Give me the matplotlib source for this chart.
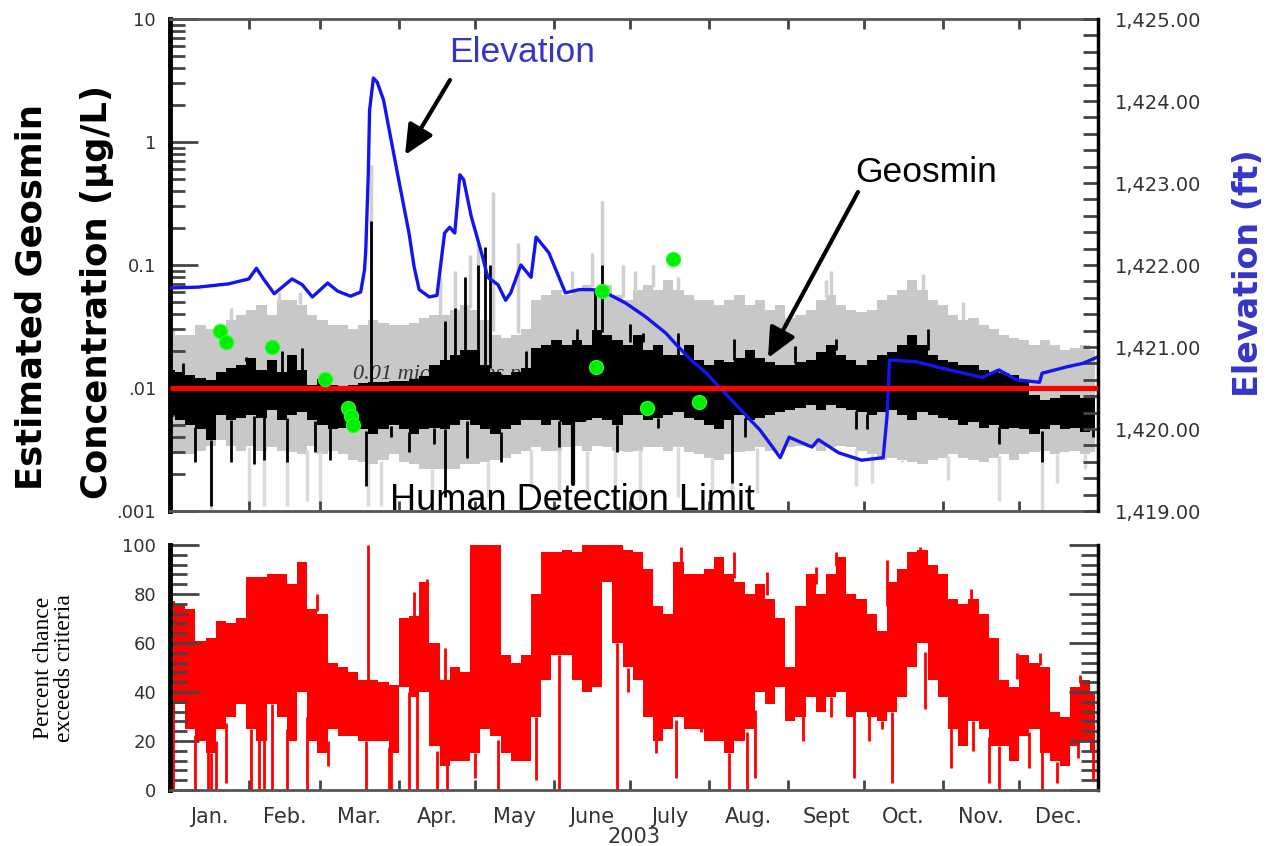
import numpy as np
import matplotlib
matplotlib.use('Agg')
import matplotlib.pyplot as plt
from matplotlib.ticker import FixedLocator, FixedFormatter, NullFormatter, MultipleLocator, LogLocator

W, H = 1268, 846

# ---------------- data (day of year, 2003) ----------------
bin_day = np.arange(0, 365, 4)          # 4-day bins, 92 values

# geosmin estimate, black band (ug/L)
geo_hi = [0.014, 0.0135, 0.0128, 0.0121, 0.0116, 0.0135, 0.0146, 0.0154,
          0.0175, 0.014, 0.0169, 0.0135, 0.0185, 0.014, 0.0106,
          0.0118, 0.0106, 0.0104, 0.0106, 0.011, 0.0112, 0.0112, 0.0115,
          0.0115, 0.0118, 0.0125, 0.0154, 0.0169, 0.0185, 0.0204,
          0.0204, 0.0154, 0.0135, 0.0128, 0.0135, 0.0146, 0.0211, 0.0224,
          0.0245, 0.0224, 0.0245, 0.0224, 0.0296, 0.027, 0.0245, 0.0224,
          0.027, 0.0204, 0.0224, 0.0185, 0.0185, 0.0224, 0.0169,
          0.0154, 0.0169, 0.0163, 0.0175, 0.0204, 0.0175, 0.0163, 0.0154,
          0.0154, 0.0163, 0.0169, 0.0196, 0.0224, 0.0185, 0.0169, 0.0154,
          0.0169, 0.0185, 0.0196, 0.0224, 0.027, 0.0224, 0.0185, 0.0169,
          0.0163, 0.0154, 0.0154, 0.014, 0.0135, 0.0132, 0.0128,
          0.0111, 0.0088, 0.008, 0.0083, 0.0088, 0.0088, 0.0083, 0.0088]
geo_lo = [0.006, 0.0055, 0.005, 0.0046, 0.0038, 0.006, 0.0055, 0.0057,
          0.006, 0.0057, 0.0066, 0.0055, 0.006, 0.0064, 0.0055,
          0.005, 0.0046, 0.0047, 0.005, 0.0046, 0.0042, 0.0046, 0.005,
          0.0046, 0.0042, 0.0046, 0.0047, 0.0046, 0.005, 0.0055,
          0.005, 0.0046, 0.0042, 0.0046, 0.005, 0.0055, 0.0055, 0.005,
          0.0055, 0.005, 0.0055, 0.0055, 0.0057, 0.0055, 0.005, 0.006,
          0.006, 0.0055, 0.0057, 0.006, 0.0064, 0.0057, 0.0055,
          0.005, 0.0046, 0.0055, 0.006, 0.0055, 0.0057, 0.006, 0.0064,
          0.0066, 0.0069, 0.0073, 0.0066, 0.0073, 0.0069, 0.0066, 0.0064,
          0.006, 0.0064, 0.0066, 0.006, 0.0055, 0.0064, 0.006, 0.0057,
          0.0055, 0.005, 0.0053, 0.0047, 0.005, 0.0046, 0.0047,
          0.0046, 0.0042, 0.0046, 0.005, 0.0046, 0.0047, 0.0044, 0.0047]
geo_up_day = [5, 30, 44, 52, 79, 108, 112, 116, 121, 124, 126, 140, 160, 167, 170, 181, 186,
              200, 222, 246, 262, 298]
geo_up_val = [0.016, 0.018, 0.02, 0.021, 0.23, 0.035, 0.045, 0.08, 0.1, 0.14, 0.1, 0.02, 0.03,
              0.065, 0.1, 0.033, 0.028, 0.028, 0.025, 0.022, 0.025, 0.03]
geo_dn_day = [10, 16, 24, 33, 37, 46, 57, 63, 77, 87, 94, 104, 108, 117, 130, 153, 176,
              192, 221, 226, 270, 274, 326, 343, 363]
geo_dn_val = [0.0025, 0.0011, 0.0025, 0.0024, 0.0026, 0.0025, 0.003, 0.0026, 0.0016, 0.004,
              0.003, 0.0035, 0.0013, 0.0027, 0.0025, 0.0033, 0.003, 0.0047, 0.0017, 0.004,
              0.0046, 0.0046, 0.0035, 0.0025, 0.004]

# uncertainty range, grey band (ug/L)
unc_hi = [0.030, 0.027, 0.027, 0.0325, 0.030, 0.0325, 0.0357, 0.039,
          0.043, 0.047, 0.039, 0.052, 0.052, 0.047, 0.039,
          0.036, 0.0325, 0.0325, 0.030, 0.0325, 0.036, 0.034, 0.0325,
          0.0325, 0.034, 0.037, 0.039, 0.039, 0.043, 0.047,
          0.043, 0.036, 0.027, 0.0255, 0.027, 0.030, 0.052, 0.057,
          0.063, 0.057, 0.063, 0.069, 0.063, 0.069, 0.057, 0.052,
          0.063, 0.069, 0.063, 0.076, 0.063, 0.057, 0.052,
          0.052, 0.047, 0.052, 0.057, 0.047, 0.052, 0.043, 0.047,
          0.037, 0.039, 0.043, 0.052, 0.057, 0.047, 0.043, 0.0415,
          0.043, 0.052, 0.057, 0.063, 0.076, 0.063, 0.052, 0.047,
          0.039, 0.036, 0.037, 0.0325, 0.030, 0.027, 0.0255,
          0.0245, 0.0224, 0.0245, 0.0224, 0.0204, 0.021, 0.0224, 0.0204]
unc_lo = [0.0031, 0.0029, 0.0029, 0.0031, 0.0034, 0.0038, 0.0034, 0.0031,
          0.0034, 0.0031, 0.0033, 0.0031, 0.003, 0.0029, 0.0034,
          0.0029, 0.0031, 0.0029, 0.0026, 0.0025, 0.0024, 0.0026, 0.0029,
          0.0025, 0.0024, 0.0022, 0.0022, 0.0022, 0.0022, 0.0024,
          0.0024, 0.0025, 0.0026, 0.0027, 0.0029, 0.0031, 0.0033, 0.0031,
          0.0031, 0.0033, 0.0034, 0.0031, 0.0034, 0.0033, 0.0031, 0.003,
          0.0031, 0.0033, 0.0033, 0.0031, 0.0033, 0.003, 0.0029,
          0.0027, 0.0026, 0.0029, 0.003, 0.0031, 0.0033, 0.0031, 0.003,
          0.0033, 0.0034, 0.0033, 0.0031, 0.0033, 0.0034, 0.0033, 0.0031,
          0.0029, 0.0026, 0.0027, 0.0026, 0.0025, 0.0024, 0.0026, 0.0027,
          0.0029, 0.0027, 0.0026, 0.0025, 0.0027, 0.0029, 0.0026,
          0.0029, 0.003, 0.0031, 0.0029, 0.003, 0.0031, 0.0029, 0.003]
unc_up_day = [24, 43, 51, 79, 106, 112, 118, 121, 127, 137, 158, 166, 170, 178, 183, 190, 200,
              258, 260, 296, 312]
unc_up_val = [0.045, 0.06, 0.06, 0.65, 0.08, 0.09, 0.12, 0.15, 0.39, 0.15, 0.09, 0.125, 0.33,
              0.1, 0.09, 0.1, 0.08, 0.075, 0.09, 0.085, 0.05]
unc_dn_day = [16, 31, 37, 46, 54, 59, 78, 83, 103, 125, 142, 153, 164, 175, 185, 200, 213,
              221, 231, 270, 276, 288, 306, 326, 343, 349, 360]
unc_dn_val = [0.001, 0.0011, 0.0011, 0.0011, 0.0012, 0.0011, 0.0011, 0.0011, 0.0011, 0.0013,
              0.0015, 0.0012, 0.0014, 0.0015, 0.0012, 0.0013, 0.0014, 0.0012, 0.0014, 0.0016,
              0.0017, 0.0025, 0.0018, 0.0012, 0.001, 0.0017, 0.0022]

# measured samples (green)
sample_day = [19.7, 22, 40, 61, 70, 71, 72, 167.5, 170, 187.6, 198, 208]
sample_val = [0.029, 0.0237, 0.0215, 0.0118, 0.0069, 0.0059, 0.005, 0.0148, 0.0615, 0.0069, 0.112, 0.0077]

detect_limit = 0.01

# reservoir elevation (ft)
elev_day = [0, 11, 23, 31, 34, 37, 41, 48, 52, 56, 62, 66, 71, 75, 76.5, 77, 78, 78.5, 80, 81.5,
            84, 87, 90.5, 94, 96, 98, 102, 105, 108, 110, 112, 114, 115.5, 118.5, 122.5, 125, 129,
            132, 134, 138, 142, 144, 149, 153, 155.5, 161, 166, 171.5, 179, 187, 195, 200, 205,
            211, 216, 221, 227, 232, 237, 240, 243.5, 252.5, 255, 263, 272, 280.5, 282, 283,
            293.5, 306.5, 319.5, 326, 333, 342, 343, 353, 359, 365]
elev_ft = [1421.72, 1421.73, 1421.77, 1421.83, 1421.96, 1421.82, 1421.65, 1421.83, 1421.76, 1421.61,
           1421.78, 1421.68, 1421.62, 1421.67, 1421.94, 1422.18, 1423.12, 1423.89, 1424.28, 1424.23,
           1424.01, 1423.52, 1422.95, 1422.39, 1421.98, 1421.70, 1421.61, 1421.63, 1422.39, 1422.46,
           1422.39, 1423.10, 1423.04, 1422.59, 1422.15, 1421.85, 1421.76, 1421.57, 1421.66, 1422.00,
           1421.85, 1422.34, 1422.15, 1421.85, 1421.66, 1421.70, 1421.70, 1421.66, 1421.54, 1421.37,
           1421.17, 1421.00, 1420.84, 1420.68, 1420.51, 1420.35, 1420.15, 1419.99, 1419.78, 1419.65,
           1419.90, 1419.78, 1419.87, 1419.71, 1419.62, 1419.65, 1420.15, 1420.84, 1420.82, 1420.72,
           1420.63, 1420.72, 1420.60, 1420.57, 1420.68, 1420.76, 1420.80, 1420.88]

# percent chance exceeds criteria (red band)
pct_hi = [77, 76, 74, 61, 62, 69, 68, 70, 87, 87,
          88, 88, 84, 93, 74, 72, 52, 50, 48, 45,
          45, 44, 43, 70, 71, 85, 60, 45, 50, 48,
          100, 100, 100, 55, 52, 55, 80, 97, 97, 98,
          97, 100, 100, 100, 100, 98, 97, 90, 75, 72,
          93, 88, 88, 90, 95, 88, 85, 80, 84, 78,
          70, 50, 75, 88, 80, 88, 95, 80, 78, 72,
          65, 85, 90, 97, 98, 92, 88, 78, 76, 78,
          72, 62, 45, 42, 55, 52, 50, 32, 30, 42,
          45, 40]
pct_lo = [30, 35, 25, 20, 15, 25, 30, 35, 25, 20,
          35, 30, 20, 40, 20, 15, 25, 22, 22, 20,
          20, 20, 15, 42, 38, 40, 18, 10, 12, 12,
          15, 25, 22, 15, 12, 12, 30, 45, 55, 55,
          45, 40, 42, 85, 60, 50, 45, 30, 20, 25,
          30, 25, 25, 20, 20, 15, 20, 25, 40, 35,
          42, 28, 30, 38, 32, 38, 40, 30, 32, 30,
          28, 32, 38, 50, 60, 45, 38, 25, 18, 28,
          25, 18, 18, 12, 22, 25, 15, 12, 10, 18,
          20, 15]
pct_dn_day = [0, 1, 10, 15, 16, 18, 22, 32, 35, 37, 40, 46, 54, 62, 77, 86,
              87, 94, 97, 105, 109, 120, 129, 144, 153, 176, 180, 191, 199, 209, 220, 227, 230,
              249, 260, 269, 275, 280, 284, 297, 307, 316, 322, 326, 338, 343, 349, 357, 363]
pct_dn_val = [0, 0, 0, 0, 0, 0, 3, 0, 0, 0, 0, 0, 0, 10, 0, 0,
              0, 0, 0, 0, 0, 5, 0, 4, 0, 0, 40, 15, 5, 35, 0, 0, 5,
              20, 30, 5, 20, 25, 3, 33, 9, 16, 3, 0, 9, 0, 3, 13, 4]
pct_up_day = [58, 78, 96, 101, 108, 201, 222, 235, 254, 262, 282, 295, 315, 333, 342, 358]
pct_up_val = [80, 100, 81, 86, 58, 99, 97, 89, 91, 97, 94, 99, 82, 56, 56, 47]

month_start = [31, 59, 90, 120, 151, 181, 212, 243, 273, 304, 334]
month_mid = [15.5, 45, 74.5, 105, 135.5, 166, 196.5, 227.5, 258, 288.5, 319, 349.5]
month_names = ['Jan.', 'Feb.', 'Mar.', 'Apr.', 'May', 'June', 'July', 'Aug.', 'Sept', 'Oct.', 'Nov.', 'Dec.']
conc_ticks = [0.001, 0.01, 0.1, 1, 10]
conc_labels = ['.001', '.01', '0.1', '1', '10']
elev_ticks = [1419, 1420, 1421, 1422, 1423, 1424, 1425]
elev_labels = ['1,419.00', '1,420.00', '1,421.00', '1,422.00', '1,423.00', '1,424.00', '1,425.00']


def fx(x):
    return x / W


def fy(y):
    return 1 - y / H


TICKC = '#444444'
LABC = '#333333'
BLUE_T = '#3535c8'

fig = plt.figure(figsize=(W / 100, H / 100), dpi=100)

# ---------------- top panel ----------------
ax = fig.add_axes([fx(170), fy(511), fx(1098) - fx(170), fy(19) - fy(511)])
ax.set_yscale('log')
ax.set_xlim(0, 365)
ax.set_ylim(0.001, 10)

ax.fill_between(bin_day, unc_lo, unc_hi, step='mid', color='#c8c8c8', lw=0, zorder=1)
ax.vlines(unc_up_day, np.interp(unc_up_day, bin_day, unc_hi), unc_up_val, color='#d0d0d0', lw=2.5, zorder=1)
ax.vlines(unc_dn_day, unc_dn_val, np.interp(unc_dn_day, bin_day, unc_lo), color='#dadada', lw=2.5, zorder=1)
ax.text(72, 0.0128, '0.01 micrograms per liter', fontsize=16, style='italic',
        family='Liberation Serif', color='#333333', ha='left', va='center', zorder=2)
ax.fill_between(bin_day, geo_lo, geo_hi, step='mid', color='black', lw=0, zorder=3)
ax.vlines(geo_up_day, np.interp(geo_up_day, bin_day, geo_hi), geo_up_val, color='black', lw=2, zorder=3)
ax.vlines(geo_dn_day, geo_dn_val, np.interp(geo_dn_day, bin_day, geo_lo), color='black', lw=2, zorder=3)

ax.yaxis.set_major_locator(FixedLocator(conc_ticks))
ax.yaxis.set_major_formatter(FixedFormatter(conc_labels))
ax.yaxis.set_minor_locator(LogLocator(base=10, subs=range(2, 10)))
ax.yaxis.set_minor_formatter(NullFormatter())
ax.tick_params(axis='y', which='major', direction='in', length=20, width=2, color=TICKC,
               labelsize=13, labelcolor=LABC, pad=10)
ax.tick_params(axis='y', which='minor', direction='in', length=11, width=2, color=TICKC)
ax.xaxis.set_major_locator(FixedLocator(month_start))
ax.tick_params(axis='x', which='major', direction='in', length=7, width=2, color=TICKC,
               top=True, bottom=True, labelbottom=False)
ax.spines['left'].set_linewidth(3.5)
ax.spines['left'].set_color('black')
for s in ['top', 'bottom']:
    ax.spines[s].set_linewidth(2)
    ax.spines[s].set_color('#555555')
ax.spines['right'].set_visible(False)

ax2 = ax.twinx()
ax2.set_xlim(0, 365)
ax2.set_ylim(1419, 1425)
ax2.plot(elev_day, elev_ft, color='#1414f0', lw=2.4, zorder=2)
# detection limit and samples drawn in concentration units, above the elevation line
ax2.plot([0, 365], [detect_limit, detect_limit], transform=ax.transData, color='#ff0000', lw=3.8, zorder=4,
         solid_capstyle='butt')
ax2.plot(sample_day, sample_val, 'o', transform=ax.transData, color='#00ee00', ms=10, mec='#22ff22',
         zorder=5)
ax2.yaxis.set_major_locator(FixedLocator(elev_ticks))
ax2.yaxis.set_major_formatter(FixedFormatter(elev_labels))
ax2.yaxis.set_minor_locator(MultipleLocator(0.2))
ax2.tick_params(axis='y', which='both', direction='in', length=11, width=2, color=TICKC,
                labelsize=14, labelcolor=LABC, pad=12)
for s in ['top', 'bottom', 'left']:
    ax2.spines[s].set_visible(False)
ax2.spines['right'].set_linewidth(2.5)
ax2.spines['right'].set_color('black')

# ---------------- bottom panel ----------------
axb = fig.add_axes([fx(170), fy(790), fx(1098) - fx(170), fy(545) - fy(790)])
axb.set_xlim(0, 365)
axb.set_ylim(0, 100)
axb.fill_between(bin_day, pct_lo, pct_hi, step='mid', color='#ff0000', lw=0)
axb.vlines(pct_dn_day, pct_dn_val, np.interp(pct_dn_day, bin_day, pct_lo), color='#ff0000', lw=2)
axb.vlines(pct_up_day, np.interp(pct_up_day, bin_day, pct_hi), pct_up_val, color='#ff0000', lw=2)
axb.yaxis.set_major_locator(MultipleLocator(20))
axb.yaxis.set_minor_locator(MultipleLocator(4))
axb.tick_params(axis='y', which='major', direction='in', length=21, width=2, color=TICKC,
                left=True, right=True, labelsize=13, labelcolor=LABC, pad=10)
axb.tick_params(axis='y', which='minor', direction='in', length=12, width=2, color=TICKC,
                left=True, right=True)
axb.xaxis.set_major_locator(FixedLocator(month_start))
axb.xaxis.set_major_formatter(NullFormatter())
axb.xaxis.set_minor_locator(FixedLocator(month_mid))
axb.xaxis.set_minor_formatter(FixedFormatter(month_names))
axb.tick_params(axis='x', which='major', direction='in', length=7, width=2, color=TICKC)
axb.tick_params(axis='x', which='minor', length=0, labelsize=15, labelcolor=LABC, pad=12)
axb.set_xlabel('2003', fontsize=15, color=LABC, labelpad=0)
axb.spines['top'].set_visible(False)
axb.spines['left'].set_linewidth(3.5)
axb.spines['right'].set_linewidth(2.5)
axb.spines['bottom'].set_linewidth(2)
axb.spines['bottom'].set_color('#555555')

# ---------------- labels and annotations ----------------
fig.text(fx(32), fy(297), 'Estimated Geosmin', rotation=90, ha='center', va='center',
         fontsize=25.5, fontweight='bold')
fig.text(fx(97), fy(292), 'Concentration (\u03bcg/L)', rotation=90, ha='center', va='center',
         fontsize=25.5, fontweight='bold')
fig.text(fx(1249), fy(273), 'Elevation (ft)', rotation=90, ha='center', va='center',
         fontsize=24, fontweight='bold', color=BLUE_T)
fig.text(fx(54), fy(668), 'Percent chance\nexceeds criteria', rotation=90, ha='center', va='center',
         family='Liberation Serif', fontsize=17, linespacing=1.05)

fig.text(fx(522), fy(52), 'Elevation', ha='center', va='center', fontsize=25.5,
         family='Liberation Sans', color=BLUE_T)
fig.text(fx(926), fy(172), 'Geosmin', ha='center', va='center', fontsize=25.5,
         family='Liberation Sans', color='black')
fig.text(fx(572), fy(500), 'Human Detection Limit', ha='center', va='center', fontsize=26,
         family='Liberation Sans', color='black', zorder=6)

arrow = dict(arrowstyle='-|>,head_length=0.6,head_width=0.28', lw=3, color='black',
             shrinkA=0, shrinkB=0, mutation_scale=30)
ax2.annotate('', xy=(fx(405), fy(155)), xytext=(fx(450), fy(80)), xycoords='figure fraction',
             textcoords='figure fraction', arrowprops=arrow, annotation_clip=False, zorder=6)
ax2.annotate('', xy=(fx(768), fy(358)), xytext=(fx(858), fy(192)), xycoords='figure fraction',
             textcoords='figure fraction', arrowprops=arrow, annotation_clip=False, zorder=6)
ax2.annotate('', xy=(fx(573), fy(390)), xytext=(fx(573), fy(484)), xycoords='figure fraction',
             textcoords='figure fraction', arrowprops=arrow, annotation_clip=False, zorder=6)

fig.savefig('out.png', dpi=100)
